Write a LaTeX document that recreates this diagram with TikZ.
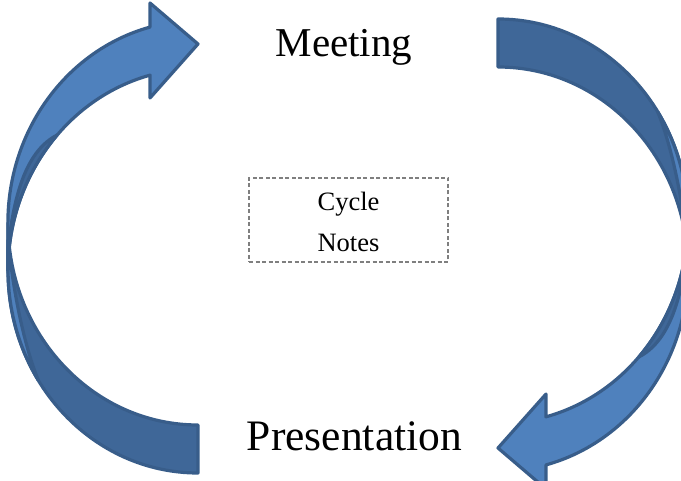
\documentclass[tikz,border=0pt]{standalone}
\usepackage{fontspec}
\setmainfont{Liberation Serif}
\definecolor{arrowfront}{RGB}{79,129,189}
\definecolor{arrowback}{RGB}{63,103,152}
\definecolor{arrowline}{RGB}{56,93,138}
\definecolor{boxline}{RGB}{127,127,127}
\tikzset{
  arrowhalf/.style={fill=arrowfront,draw=arrowline,line width=3.2pt,line join=round},
  arrowtail/.style={fill=arrowback,draw=arrowline,line width=3.2pt,line join=round},
  stagetext/.style={anchor=base,inner sep=0pt},
  notetext/.style={font=\fontsize{26.5}{26.5}\selectfont,anchor=base,inner sep=0pt},
  notebox/.style={draw=boxline,dash pattern=on 4pt off 2.5pt,line width=1.3pt,minimum width=199pt,minimum height=84pt,inner sep=0pt}
}
\begin{document}
\begin{tikzpicture}[x=1pt,y=-1pt]
 \clip (0,0) rectangle (681,481);
 % left arrow, head at the top
 \draw[arrowtail](198,425) arc (90:180:190 and 202.2)--(8,270.8) arc (180:90:190 and 202.2)--cycle;
 \draw[arrowhalf](150,27.1) arc (255.4:180:190 and 202.2)--(8,270.8) arc (180:255.4:190 and 202.2)--(150,98)--(198,44)--(150,3)--cycle;
 \draw[arrowtail](8,250) .. controls (14,190) and (28,150) .. (57.2,135) arc (222.2:180:190 and 202.2)--cycle;
 \draw[arrowhalf](8,240) .. controls (14,300) and (26,350) .. (38.2,380) arc (147.3:180:190 and 202.2)--cycle;
 % right arrow, the same turned round
 \begin{scope}[rotate around={180:(348,246)}]
 \draw[arrowtail](198,425) arc (90:180:190 and 202.2)--(8,270.8) arc (180:90:190 and 202.2)--cycle;
 \draw[arrowhalf](150,27.1) arc (255.4:180:190 and 202.2)--(8,270.8) arc (180:255.4:190 and 202.2)--(150,98)--(198,44)--(150,3)--cycle;
 \draw[arrowtail](8,250) .. controls (14,190) and (28,150) .. (57.2,135) arc (222.2:180:190 and 202.2)--cycle;
 \draw[arrowhalf](8,240) .. controls (14,300) and (26,350) .. (38.2,380) arc (147.3:180:190 and 202.2)--cycle;
 \end{scope}
 \node[stagetext,font=\fontsize{41}{41}\selectfont] (meeting) at (344,57) {Meeting};
 \node[stagetext,font=\fontsize{43.5}{43.5}\selectfont] (presentation) at (354.5,450) {Presentation};
 \node[notebox] (notes) at (348.5,220) {};
 \node[notetext] (cycle) at (348.5,211) {Cycle};
 \node[notetext] (notestext) at (348.5,251.7) {Notes};
\end{tikzpicture}
\end{document}
